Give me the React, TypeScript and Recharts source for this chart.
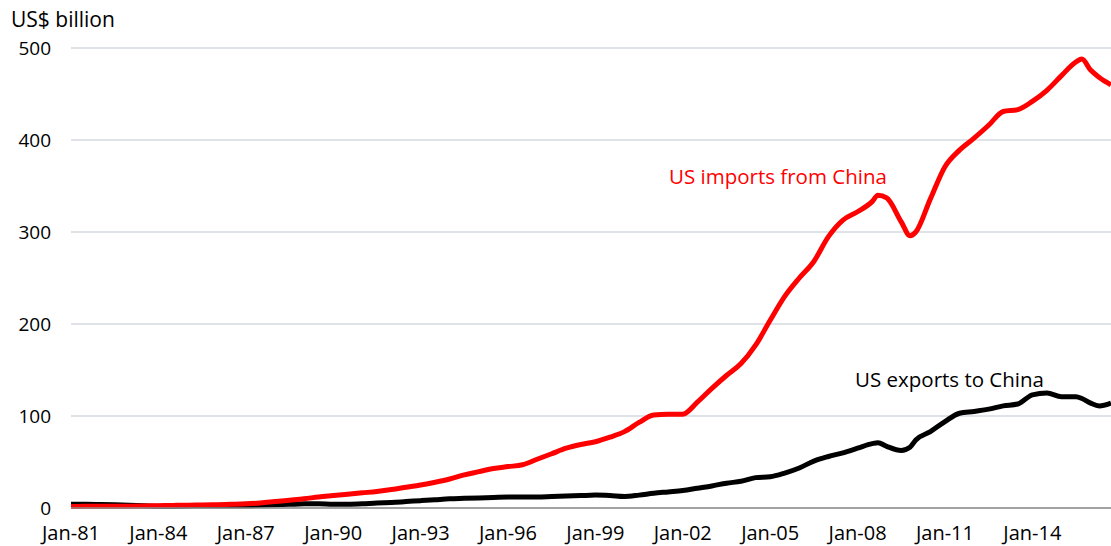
import { LineChart, Line, XAxis, YAxis, CartesianGrid } from 'recharts';

// time points as decimal years (Jan = .0, Jul = .5)
const dates = [
  1981.0, 1981.5, 1982.0, 1982.5, 1983.0, 1983.5, 1984.0, 1984.5, 1985.0, 1985.5,
  1986.0, 1986.5, 1987.0, 1987.5, 1988.0, 1988.5, 1989.0, 1989.5, 1990.0, 1990.5,
  1991.0, 1991.5, 1992.0, 1992.5, 1993.0, 1993.5, 1994.0, 1994.5, 1995.0, 1995.5,
  1996.0, 1996.5, 1997.0, 1997.5, 1998.0, 1998.5, 1999.0, 1999.5, 2000.0, 2000.5,
  2001.0, 2001.5, 2002.0, 2002.5, 2003.0, 2003.5, 2004.0, 2004.5, 2005.0, 2005.5,
  2006.0, 2006.5, 2007.0, 2007.5, 2008.0, 2008.5, 2008.7, 2009.0, 2009.5, 2009.8,
  2010.0, 2010.5, 2011.0, 2011.5, 2012.0, 2012.5, 2013.0, 2013.5, 2014.0, 2014.5,
  2015.0, 2015.5, 2015.7, 2016.0, 2016.3, 2016.7,
];

// US imports from China, US$ billion
const imports = [
  1.5, 1.8, 2, 2, 2, 2.2, 2.5, 2.8, 3, 3.3,
  3.6, 4, 4.5, 5.5, 7, 8.5, 10, 12, 13.5, 15,
  16.5, 18, 20, 22.5, 25, 28, 31.5, 36, 39.5, 43,
  45, 47, 53, 59, 65, 69, 72, 77, 83, 93,
  101, 102, 102, 115, 130, 144, 157, 177, 204, 230,
  250, 268, 295, 313, 322, 333, 340, 337, 311, 296,
  300, 336, 371, 389, 402, 416, 431, 433, 442, 454,
  470, 485, 488, 476, 468, 460,
];

// US exports to China, US$ billion
const exports = [
  4, 4, 3.8, 3.5, 3, 2.5, 2, 2, 2.2, 2.5,
  2.5, 2.5, 2.5, 3, 3.5, 4, 4.5, 4.5, 4, 4,
  4.5, 5.5, 6, 7, 8, 9, 10, 10.5, 11, 11.5,
  12, 12, 12, 12.5, 13, 13.5, 14, 13.5, 12.5, 14,
  16, 17.5, 19, 21.5, 24, 27, 29, 33, 34, 38,
  43.5, 51, 56, 60, 65, 70, 71, 67, 62.5, 66,
  74, 83, 94, 103, 105, 107.5, 111, 113, 123, 125,
  121, 121, 119, 114, 111, 114,
];

const xTicks = [1981, 1984, 1987, 1990, 1993, 1996, 1999, 2002, 2005, 2008, 2011, 2014];
const yTicks = [0, 100, 200, 300, 400, 500];

const data = dates.map((t, i) => ({ t, imports: imports[i], exports: exports[i] }));

const font = '"Open Sans", sans-serif';

export default function App() {
  return (
    <div style={{ position: 'absolute', left: 0, top: 0, width: 1111, height: 546, fontFamily: font, background: '#fff' }}>
      <div style={{ position: 'absolute', left: 11, top: 9, fontSize: 21, lineHeight: 1, color: '#000' }}>
        US$ billion
      </div>
      <LineChart width={1111} height={546} data={data} margin={{ top: 48, right: 0, left: 0, bottom: 0 }}>
        <CartesianGrid vertical={false} stroke="#bfc6ce" strokeWidth={1} />
        <XAxis
          dataKey="t"
          type="number"
          domain={[1981, 2016.7]}
          ticks={xTicks}
          tickFormatter={(v) => `Jan-${String(v).slice(2)}`}
          height={38}
          tickSize={0}
          tickMargin={18}
          axisLine={{ stroke: '#8c8c8c', strokeWidth: 1.5 }}
          tick={{ fill: '#000', fontSize: 20, fontFamily: font }}
          interval={0}
        />
        <YAxis
          domain={[0, 500]}
          ticks={yTicks}
          width={71}
          tickSize={0}
          tickMargin={20}
          axisLine={false}
          tick={{ fill: '#000', fontSize: 19, fontFamily: font }}
        />
        <Line
          type="monotone"
          dataKey="exports"
          stroke="#000000"
          strokeWidth={5}
          dot={false}
          strokeLinejoin="round"
          isAnimationActive={false}
        />
        <Line
          type="monotone"
          dataKey="imports"
          stroke="#ff0000"
          strokeWidth={5}
          dot={false}
          strokeLinejoin="round"
          isAnimationActive={false}
        />
      </LineChart>
      <div style={{ position: 'absolute', left: 669, top: 166, fontSize: 20.5, lineHeight: 1, color: '#ff0000' }}>
        US imports from China
      </div>
      <div style={{ position: 'absolute', left: 855, top: 369, fontSize: 20.5, lineHeight: 1, color: '#000' }}>
        US exports to China
      </div>
    </div>
  );
}
